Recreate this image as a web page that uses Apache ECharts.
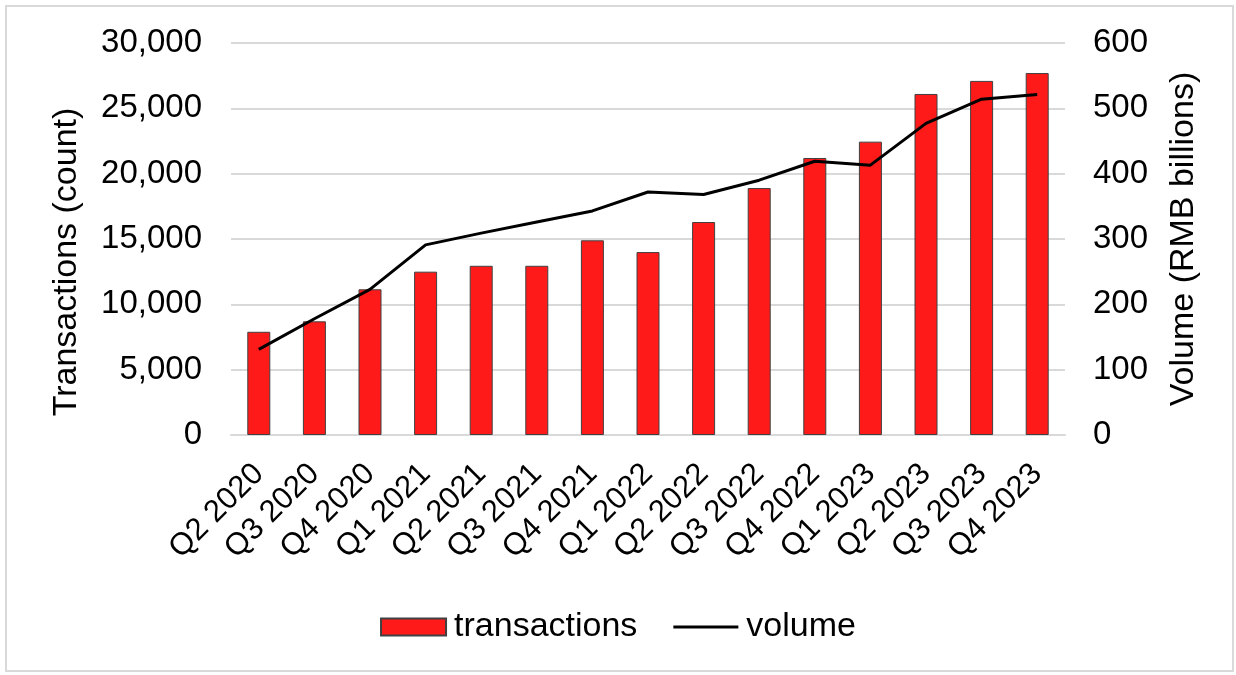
<!DOCTYPE html>
<html>
<head>
<meta charset="utf-8">
<script src="https://cdn.jsdelivr.net/npm/echarts@6/dist/echarts.min.js"></script>
<style>
  html, body { margin: 0; padding: 0; background: #fff; }
  #wrap { position: relative; width: 1236px; height: 675px; }
  #chart { width: 1236px; height: 675px; }
  #frame {
    position: absolute; left: 5px; top: 5px; width: 1225px; height: 663px;
    border: 2px solid #d9d9d9; pointer-events: none;
  }
</style>
</head>
<body>
<div id="wrap">
  <div id="chart"></div>
  <div id="frame"></div>
</div>
<script>
// quarterly data
const quarters = ['Q2 2020', 'Q3 2020', 'Q4 2020', 'Q1 2021', 'Q2 2021', 'Q3 2021', 'Q4 2021',
  'Q1 2022', 'Q2 2022', 'Q3 2022', 'Q4 2022', 'Q1 2023', 'Q2 2023', 'Q3 2023', 'Q4 2023']
const transactions = [7900, 8700, 11150, 12500, 12950, 12950, 14900, 14000, 16300, 18900,
  21200, 22450, 26100, 27100, 27700]
const volume = [131, 178, 223, 291, 309, 326, 343, 372, 368, 390, 419, 413, 477, 514, 521]
const leftTicks = [0, 30000, 5000]   // min, max, step
const rightTicks = [0, 600, 100]

const font = 'Liberation Sans, Arial, sans-serif'
const chart = echarts.init(document.getElementById('chart'))

const option = {
  animation: false,
  textStyle: { fontFamily: font, color: '#000' },
  grid: { left: 231, right: 171, top: 43, bottom: 240 },
  legend: {
    bottom: 26,
    left: 'center',
    itemWidth: 65,
    itemHeight: 17,
    itemGap: 36,
    textStyle: { fontSize: 34, color: '#000', fontFamily: font, padding: [0, 0, 0, 3] },
    data: [
      { name: 'transactions', icon: 'rect' },
      { name: 'volume', icon: 'path://M0,0H68V3H0Z' }
    ]
  },
  xAxis: {
    type: 'category',
    data: quarters,
    axisTick: { show: false },
    axisLine: { lineStyle: { color: '#d9d9d9', width: 2 } },
    axisLabel: { rotate: 45, fontSize: 31, color: '#000', margin: 34, interval: 0, fontFamily: font }
  },
  yAxis: [
    {
      type: 'value',
      min: leftTicks[0],
      max: leftTicks[1],
      interval: leftTicks[2],
      name: 'Transactions (count)',
      nameLocation: 'middle',
      nameRotate: 90,
      nameGap: 147,
      nameTextStyle: { fontSize: 34, color: '#000', fontFamily: font, padding: [0, 46, 0, 0] },
      axisLabel: {
        fontSize: 33, color: '#000', margin: 29, fontFamily: font,
        formatter: v => v.toLocaleString('en-US')
      },
      splitLine: { lineStyle: { color: '#d9d9d9', width: 2 } }
    },
    {
      type: 'value',
      min: rightTicks[0],
      max: rightTicks[1],
      interval: rightTicks[2],
      name: 'Volume (RMB billions)',
      nameLocation: 'middle',
      nameRotate: 90,
      nameGap: 102,
      nameTextStyle: { fontSize: 34, color: '#000', fontFamily: font },
      axisLabel: { fontSize: 33, color: '#000', margin: 28, fontFamily: font },
      splitLine: { show: false }
    }
  ],
  series: [
    {
      name: 'transactions',
      type: 'bar',
      yAxisIndex: 0,
      data: transactions,
      barWidth: 23,
      itemStyle: { color: '#ff1a1a', borderColor: '#404040', borderWidth: 1 }
    },
    {
      name: 'volume',
      type: 'line',
      yAxisIndex: 1,
      data: volume,
      symbol: 'none',
      lineStyle: { color: '#000', width: 3 },
      itemStyle: { color: '#000' }
    }
  ]
}
option && chart.setOption(option)
</script>
</body>
</html>
